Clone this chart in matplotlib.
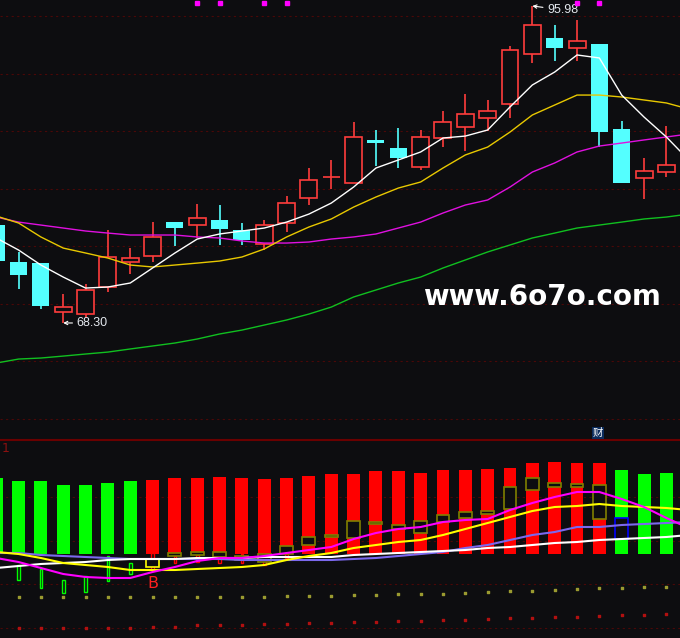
import numpy as np
import matplotlib
matplotlib.use('Agg')
import matplotlib.pyplot as plt

plt.rcParams['font.family'] = ['DejaVu Sans', 'Noto Sans CJK SC']

bg = '#0d0d10'
grid_col = '#4a0808'
up_col = '#ff3c3c'
dn_col = '#54ffff'

# daily K-line
opens = [76.85, 73.62, 73.53, 69.26, 69.08, 71.44, 73.62, 74.15, 77.11, 76.85,
         77.29, 76.42, 75.19, 77.03, 79.21, 81.04, 80.52, 84.28, 83.58, 81.92,
         84.45, 85.41, 86.20, 87.42, 91.78, 93.18, 92.31, 92.66, 85.24, 80.96, 81.48]
highs = [77.11, 74.50, 73.53, 70.83, 71.70, 76.42, 74.84, 77.11, 77.11, 78.69,
         78.60, 77.03, 77.29, 79.39, 81.83, 82.53, 85.85, 85.15, 85.32, 85.15,
         86.81, 88.29, 87.77, 92.48, 95.98, 94.32, 94.75, 92.66, 85.93, 82.70, 85.50]
lows = [73.53, 71.26, 69.52, 68.30, 68.73, 71.00, 72.57, 73.62, 75.02, 75.72,
        75.11, 75.11, 74.67, 76.24, 78.60, 80.00, 80.52, 82.00, 81.83, 81.66,
        83.66, 83.31, 85.06, 86.20, 91.00, 91.17, 91.17, 83.66, 80.52, 79.12, 81.04]
closes = [73.71, 72.49, 69.78, 69.69, 71.18, 74.06, 73.97, 75.81, 76.59, 77.46,
          76.50, 75.54, 76.85, 78.77, 80.78, 81.04, 84.54, 84.01, 82.70, 84.54,
          85.85, 86.55, 86.81, 92.13, 94.32, 92.31, 92.92, 84.97, 80.52, 81.57, 82.09]

# moving averages (one extra point past the last candle, runs off the edge)
ma5 = [75.72, 74.67, 73.36, 72.31, 71.35, 71.44, 71.79, 73.10, 74.41, 75.63,
       76.07, 76.33, 76.59, 77.11, 77.81, 78.77, 80.17, 81.83, 82.53, 83.23,
       84.45, 84.62, 85.15, 87.16, 89.08, 90.21, 91.70, 91.44, 88.20, 86.28, 84.54, 82.53]
ma10 = [77.64, 77.03, 75.81, 74.84, 74.41, 73.97, 73.36, 73.19, 73.36, 73.53,
        73.71, 74.06, 74.76, 75.81, 76.68, 77.38, 78.42, 79.30, 80.08, 80.61,
        81.83, 82.97, 83.66, 84.97, 86.46, 87.33, 88.20, 88.20, 88.03, 87.77, 87.51, 86.98]
ma20 = [77.55, 77.11, 76.85, 76.59, 76.33, 76.15, 75.98, 75.98, 75.98, 75.81,
        75.72, 75.46, 75.28, 75.28, 75.37, 75.63, 75.81, 76.07, 76.59, 77.11,
        77.90, 78.60, 79.04, 80.17, 81.48, 82.27, 83.23, 83.75, 84.01, 84.28, 84.54, 84.80]
ma60 = [64.80, 65.15, 65.24, 65.41, 65.59, 65.76, 66.03, 66.29, 66.55, 66.90,
        67.34, 67.68, 68.12, 68.56, 69.08, 69.69, 70.57, 71.18, 71.79, 72.31,
        73.10, 73.80, 74.50, 75.11, 75.72, 76.15, 76.59, 76.85, 77.11, 77.38, 77.55, 77.81]

signal_days = [9, 10, 12, 13, 26, 27]

# lower indicator
bar_vals = [76, 73, 73, 69, 69, 71, 73, 74, 76, 76, 77, 76, 75, 76, 78, 80,
            80, 83, 83, 81, 84, 84, 85, 86, 91, 92, 91, 91, 84, 80, 81]
bar_cols = ['#00ff00'] * 7 + ['#ff0000'] * 21 + ['#00ff00'] * 3

box_days = [7, 8, 9, 10, 11, 12, 13, 14, 15, 16, 17, 18, 19, 20, 21, 22, 23, 24, 25, 26, 27, 28]
box_top = [-5, 1, 2, 2, -2, 0, 8, 17, 19, 33, 32, 29, 33, 39, 42, 43, 67, 76, 71, 70, 69, 36]
box_bot = [-13, -2, -1, -3, -6, -8, 0, 9, 17, 16, 30, 25, 21, 32, 36, 40, 45, 64, 67, 67, 35, 15]
box_cols = ['#ffff00'] + ['#808000'] * 20 + ['#0000ff']

stick_days = [1, 2, 3, 4, 5, 6, 7, 8, 9, 10, 11, 12, 13]
stick_top = [-11, -15, -26, -22, -2, -9, 1, -2, -1, -3, 0, 0, 0]
stick_bot = [-26, -34, -39, -38, -27, -20, -16, -9, -8, -9, -9, -11, -4]
stick_cols = ['#00ff00'] * 6 + ['#ff0000'] * 7

ln_white = [-14, -12, -10, -9, -8, -6, -5, -5, -5, -4, -4, -4, -3, -3, -3, -3,
            -1, 0, 1, 2, 3, 4, 6, 7, 9, 11, 12, 14, 15, 16, 17, 19]
ln_yellow = [2, 0, -4, -9, -11, -13, -16, -16, -16, -15, -14, -13, -11, -6, -2, 1,
             6, 9, 12, 14, 19, 25, 31, 37, 43, 47, 48, 50, 48, 47, 46, 44]
ln_magenta = [-4, -8, -14, -20, -23, -24, -24, -18, -13, -7, -4, -4, -2, 1, 4, 7,
              15, 21, 25, 27, 32, 34, 35, 44, 51, 57, 62, 62, 55, 47, 36, 26]
ln_purple = [1, 1, -1, -2, -3, -4, -5, -5, -5, -5, -5, -6, -6, -6, -6, -6,
             -5, -4, -2, 0, 2, 6, 9, 14, 19, 22, 27, 27, 29, 30, 31, 32]

dots_olive = [-43, -43, -43, -43, -43, -43, -43, -43, -43, -43, -43, -43, -43, -42, -42, -42,
              -41, -41, -40, -40, -40, -39, -38, -37, -37, -36, -35, -34, -34, -33, -33]
dots_red = [-74, -74, -74, -74, -74, -74, -74, -73, -73, -71, -71, -71, -70, -70, -69, -69,
            -68, -68, -67, -67, -66, -66, -65, -64, -64, -63, -63, -62, -61, -61, -60]

buy_day = 7
buy_val = -29

fig = plt.figure(figsize=(6.8, 6.38), dpi=100, facecolor=bg)
ax = fig.add_axes([0, 199 / 638, 1, 439 / 638], facecolor=bg)
ax2 = fig.add_axes([0, 0, 1, 198 / 638], facecolor=bg)

xlim = (0.17, 30.61)

# ---- price panel
idx = np.arange(len(opens))
o = np.array(opens)
c = np.array(closes)
h = np.array(highs)
l = np.array(lows)
up = c >= o
dn = ~up
body = np.maximum(np.abs(c - o), 0.02)
base = np.minimum(o, c)

ax.vlines(idx[up], l[up], h[up], color=up_col, lw=1.2, zorder=2)
ax.bar(idx[up], body[up], bottom=base[up], width=0.76, facecolor=bg,
       edgecolor=up_col, lw=1.2, zorder=2.5)
ax.vlines(idx[dn], l[dn], h[dn], color=dn_col, lw=1.2, zorder=2)
ax.bar(idx[dn], body[dn], bottom=base[dn], width=0.76, color=dn_col, zorder=2.5)

mx = np.arange(len(ma5))
ax.plot(mx, ma60, color='#10c020', lw=1.0, zorder=3)
ax.plot(mx, ma20, color='#e010e0', lw=1.0, zorder=3)
ax.plot(mx, ma10, color='#e8c800', lw=1.0, zorder=3)
ax.plot(mx, ma5, color='#ffffff', lw=1.0, zorder=3)

ax.plot(signal_days, [96.24] * len(signal_days), 's', color='#ff00ff', ms=2.4, zorder=4)

hi_i = int(np.argmax(h))
lo_i = int(np.argmin(l))
ax.annotate('%.2f' % h[hi_i], xy=(hi_i, h[hi_i]), xytext=(hi_i + 0.66, h[hi_i] - 0.35),
            color='#e4e8ee', fontsize=9, family='Liberation Sans', va='center',
            arrowprops=dict(arrowstyle='->', color='white', lw=0.8, mutation_scale=6,
                            shrinkA=1, shrinkB=0))
ax.annotate('%.2f' % l[lo_i], xy=(lo_i, l[lo_i]), xytext=(lo_i + 0.6, l[lo_i]),
            color='#e4e8ee', fontsize=9, family='Liberation Sans', va='center',
            arrowprops=dict(arrowstyle='->', color='white', lw=0.8, mutation_scale=6,
                            shrinkA=1, shrinkB=0))

ax.set_xlim(xlim)
ax.set_ylim(58.17, 96.50)
ax.set_yticks([95.11, 90.04, 85.06, 79.99, 75.02, 69.95, 64.98, 59.91])
ax.grid(axis='y', color=grid_col, lw=0.8, linestyle=(0, (2, 3)))
ax.set_axisbelow(True)
ax.tick_params(left=False, bottom=False, labelleft=False, labelbottom=False)
for s in ax.spines.values():
    s.set_visible(False)

# ---- indicator panel
bx = np.arange(len(bar_vals))
ax2.bar(bx, bar_vals, width=0.58, color=bar_cols, zorder=2)

ax2.bar(stick_days, np.array(stick_top) - np.array(stick_bot), bottom=stick_bot,
        width=0.12, facecolor=bg, edgecolor=stick_cols, lw=1.0, zorder=2.6)
ax2.bar(box_days, np.array(box_top) - np.array(box_bot), bottom=box_bot,
        width=0.58, facecolor=bg, edgecolor=box_cols, lw=1.2, zorder=2.7)

lx = np.arange(len(ln_white))
ax2.plot(lx, ln_purple, color='#7b68ee', lw=1.5, zorder=3)
ax2.plot(lx, ln_white, color='#ffffff', lw=1.5, zorder=3)
ax2.plot(lx, ln_yellow, color='#ffff00', lw=1.5, zorder=3)
ax2.plot(lx, ln_magenta, color='#ff00ff', lw=1.5, zorder=3)

ax2.scatter(bx, dots_olive, s=1.2, marker='s', color='#9a9a30', zorder=3)
ax2.scatter(bx, dots_red, s=1.2, marker='s', color='#b01010', zorder=3)

ax2.text(buy_day, buy_val, 'B', color='#ff2020', fontsize=11.5, ha='center',
         va='center', zorder=4)

ax2.set_xlim(xlim)
ax2.set_ylim(-84, 114)
ax2.set_yticks([57, 13, -30, -74])
ax2.grid(axis='y', color=grid_col, lw=0.8, linestyle=(0, (2, 3)))
ax2.set_axisbelow(True)
ax2.tick_params(left=False, bottom=False, labelleft=False, labelbottom=False)
for s in ax2.spines.values():
    s.set_visible(False)
ax2.spines['top'].set_visible(True)
ax2.spines['top'].set_color('#6a0000')
ax2.spines['top'].set_linewidth(1.5)

fig.text(2 / 680, 1 - 448 / 638, '1', color='#8b1010', fontsize=9, va='center')
fig.text(598 / 680, 1 - 433 / 638, '财', color='white', fontsize=7.5, ha='center',
         va='center', family=['Noto Sans CJK SC', 'DejaVu Sans'],
         bbox=dict(facecolor='#0c2c5c', edgecolor='none', pad=0.6))
fig.text(423 / 680, 1 - 297 / 638, 'www.6o7o.com', color='white', fontsize=20,
         fontweight='bold', va='center', ha='left')

fig.savefig('out.png', dpi=100, facecolor=bg)
